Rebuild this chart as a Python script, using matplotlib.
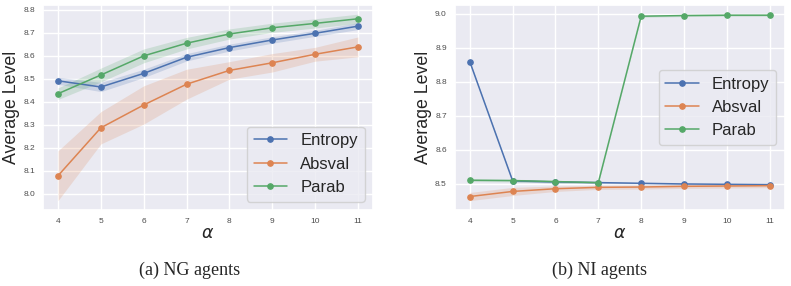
import matplotlib
matplotlib.use("Agg")
import matplotlib.pyplot as plt
import seaborn as sns

alphas = [4, 5, 6, 7, 8, 9, 10, 11]
labels = ["Entropy", "Absval", "Parab"]

# (a) NG agents
ng_entropy = [8.491, 8.464, 8.523, 8.593, 8.635, 8.668, 8.697, 8.728]
ng_entropy_err = [0.015, 0.02, 0.018, 0.016, 0.015, 0.014, 0.013, 0.015]
ng_absval = [8.079, 8.287, 8.386, 8.476, 8.536, 8.569, 8.606, 8.638]
ng_absval_err = [0.108, 0.07, 0.083, 0.065, 0.038, 0.04, 0.03, 0.043]
ng_parab = [8.435, 8.516, 8.599, 8.654, 8.694, 8.721, 8.740, 8.760]
ng_parab_err = [0.025, 0.03, 0.03, 0.025, 0.022, 0.02, 0.02, 0.02]

# (b) NI agents
ni_entropy = [8.859, 8.508, 8.505, 8.503, 8.501, 8.499, 8.498, 8.497]
ni_entropy_err = [0.003, 0.003, 0.003, 0.003, 0.002, 0.002, 0.002, 0.002]
ni_absval = [8.462, 8.477, 8.485, 8.489, 8.490, 8.492, 8.493, 8.494]
ni_absval_err = [0.012, 0.012, 0.008, 0.006, 0.006, 0.006, 0.006, 0.006]
ni_parab = [8.510, 8.509, 8.506, 8.503, 8.993, 8.995, 8.996, 8.996]
ni_parab_err = [0.004, 0.004, 0.004, 0.003, 0.003, 0.003, 0.003, 0.003]

sns.set_theme(style="darkgrid")
plt.rcParams["font.family"] = ["Liberation Sans", "DejaVu Sans"]
colors = sns.color_palette("deep")


def draw_panel(ax, series, errs):
    for i, (vals, err) in enumerate(zip(series, errs)):
        lo = [v - e for v, e in zip(vals, err)]
        hi = [v + e for v, e in zip(vals, err)]
        ax.fill_between(alphas, lo, hi, color=colors[i], alpha=0.2, linewidth=0)
        ax.plot(alphas, vals, color=colors[i], marker="o", markersize=3.8,
                linewidth=1.1, label=labels[i])
    ax.set_xticks(alphas)
    ax.tick_params(length=0, labelsize=6, colors="0.3")
    ax.tick_params(axis="x", pad=5.8)
    ax.tick_params(axis="y", pad=5.8)
    ax.set_xlabel(r"$\alpha$", fontsize=12.5)
    ax.xaxis.set_label_coords(0.5, -0.08)
    ax.set_ylabel("Average Level", fontsize=12.8)
    ax.yaxis.set_label_coords(-0.07, 0.5)


fig = plt.figure(figsize=(7.91, 2.86), dpi=100)
ax1 = fig.add_axes([0.0544, 0.266, 0.417, 0.717])
ax2 = fig.add_axes([0.575, 0.266, 0.417, 0.717])

draw_panel(ax1, [ng_entropy, ng_absval, ng_parab],
           [ng_entropy_err, ng_absval_err, ng_parab_err])
ax1.legend(loc="lower right", fontsize=12, handlelength=2.0)

draw_panel(ax2, [ni_entropy, ni_absval, ni_parab],
           [ni_entropy_err, ni_absval_err, ni_parab_err])
ax2.legend(loc="center right", fontsize=12, handlelength=2.0)

fig.text(190 / 791, 1 - 270 / 286, "(a) NG agents", family="Liberation Serif",
         fontsize=13, ha="center", va="center")
fig.text(600 / 791, 1 - 270 / 286, "(b) NI agents", family="Liberation Serif",
         fontsize=13, ha="center", va="center")

fig.savefig("out.png", dpi=100, facecolor="white")
